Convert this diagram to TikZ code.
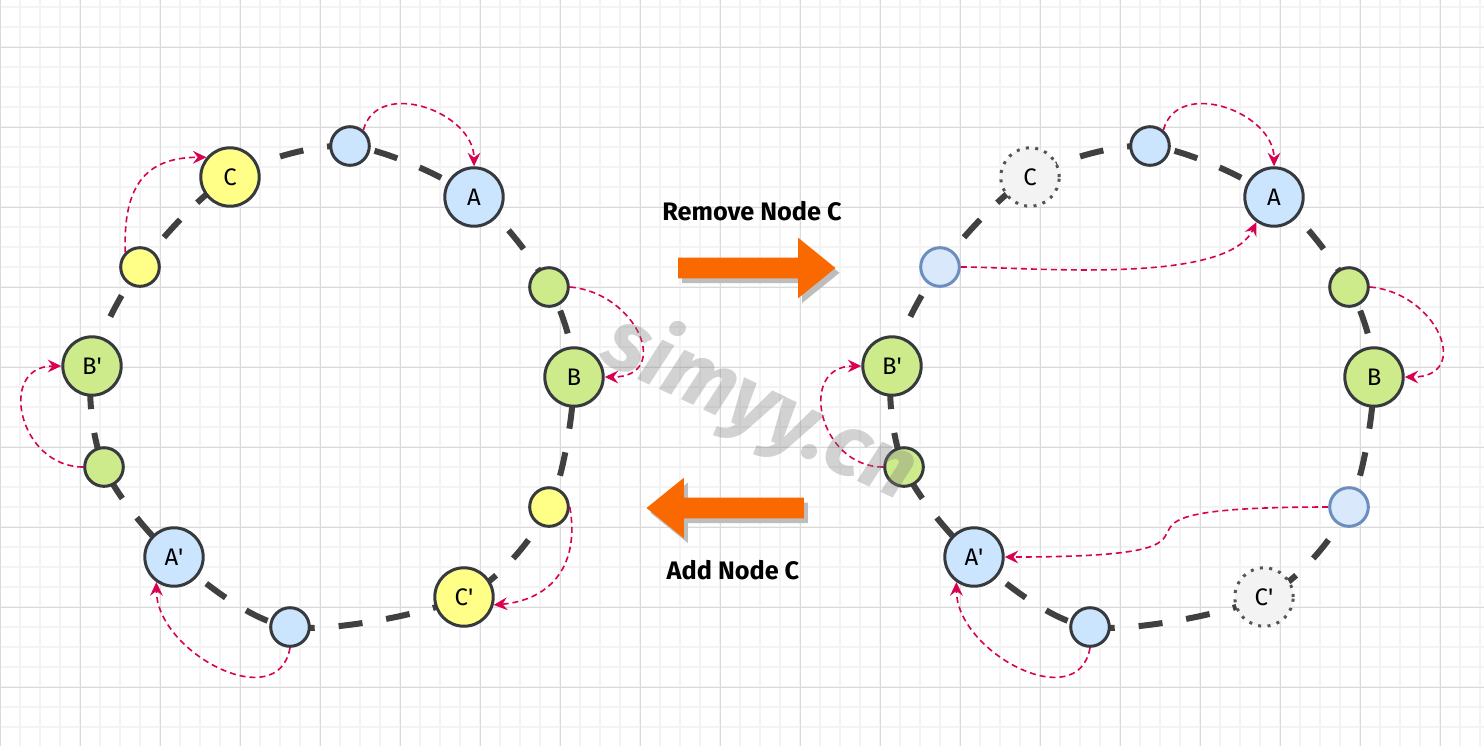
\documentclass[tikz,border=0pt]{standalone}
\usepackage{fontspec}
\setmainfont{Fira Sans}
\usetikzlibrary{arrows.meta,shapes.arrows,shadows,backgrounds}
\definecolor{ringgray}{HTML}{404040}
\definecolor{nodeline}{HTML}{36393D}
\definecolor{nodeblue}{HTML}{CCE5FF}
\definecolor{nodegreen}{HTML}{CDEB8B}
\definecolor{nodeyellow}{HTML}{FFFF88}
\definecolor{newfill}{HTML}{DAE8FC}
\definecolor{newline}{HTML}{6C8EBF}
\definecolor{ghostfill}{HTML}{F3F3F3}
\definecolor{ghostline}{HTML}{555555}
\definecolor{linkred}{HTML}{D90052}
\definecolor{arroworange}{HTML}{FA6800}
\definecolor{shadowgray}{HTML}{BDBDBD}
\definecolor{gridmajor}{HTML}{DADADA}
\definecolor{gridminor}{HTML}{F3F3F3}

\tikzset{
	ring/.style={draw=ringgray,line width=1.5mm,dash pattern=on 6mm off 6mm},
	ringnode/.style={circle,draw=nodeline,line width=0.75mm,inner sep=0pt,font=\fontsize{17}{20}\selectfont},
	big/.style={ringnode,minimum size=14.6mm},
	small/.style={ringnode,minimum size=9.65mm},
	blue/.style={fill=nodeblue},
	green/.style={fill=nodegreen},
	yellow/.style={fill=nodeyellow},
	fresh/.style={small,fill=newfill,draw=newline},
	ghost/.style={big,fill=ghostfill,draw=ghostline,dash pattern=on 0.75mm off 1.6mm},
	link/.style={draw=linkred,line width=0.4mm,dash pattern=on 1.5mm off 1mm,-{Stealth[length=3.4mm,width=3.2mm,inset=1.2mm]}},
	blockarrow/.style={single arrow,fill=arroworange,draw=none,minimum height=39.3mm,inner xsep=0pt,inner ysep=2.5mm,
		single arrow head extend=5mm,single arrow tip angle=78,
		drop shadow={shadow xshift=1mm,shadow yshift=-1.2mm,fill=shadowgray,opacity=1}},
	caption/.style={font=\fontsize{18}{21}\selectfont\bfseries},
	watermark/.style={rotate=-25,text=gray,text opacity=0.35,font=\fontsize{62}{70}\selectfont\bfseries\itshape}
}

\begin{document}
\begin{tikzpicture}[x=0.025cm,y=0.025cm]
	\useasboundingbox (0,0) rectangle (1484,-746);

	% left ring
	\node[small,blue] (Lt) at (350,-146) {};
	\node[big,blue] (LA) at (474,-197) {A};
	\node[small,green] (Lg1) at (549,-287) {};
	\node[big,green] (LB) at (574,-377) {B};
	\node[small,yellow] (Ly1) at (549,-507) {};
	\node[big,yellow] (LCp) at (464,-597) {C\textquotesingle};
	\node[small,blue] (Lb1) at (290,-627) {};
	\node[big,blue] (LAp) at (174,-557) {A\textquotesingle};
	\node[small,green] (Lg2) at (104,-467) {};
	\node[big,green] (LBp) at (92,-366) {B\textquotesingle};
	\node[small,yellow] (Ly2) at (140,-267) {};
	\node[big,yellow] (LC) at (230,-177) {C};

	% right ring
	\node[small,blue] (Rt) at (1150,-146) {};
	\node[big,blue] (RA) at (1274,-197) {A};
	\node[small,green] (Rg1) at (1349,-287) {};
	\node[big,green] (RB) at (1374,-377) {B};
	\node[fresh] (Rb3) at (1349,-507) {};
	\node[ghost] (RCp) at (1264,-597) {C\textquotesingle};
	\node[small,blue] (Rb1) at (1090,-627) {};
	\node[big,blue] (RAp) at (974,-557) {A\textquotesingle};
	\node[small,green] (Rg2) at (904,-467) {};
	\node[big,green] (RBp) at (892,-366) {B\textquotesingle};
	\node[fresh] (Rb2) at (940,-267) {};
	\node[ghost] (RC) at (1030,-177) {C};

	\begin{pgfonlayer}{background}
		\fill[white] (0,0) rectangle (1484,-746);
		\foreach \x in {0,20,...,1480} \draw[gridminor,line width=0.5mm] (\x,0) -- (\x,-746);
		\foreach \y in {7,27,...,746} \draw[gridminor,line width=0.5mm] (0,-\y) -- (1484,-\y);
		\foreach \x in {0,80,...,1480} \draw[gridmajor,line width=0.25mm] (\x,0) -- (\x,-746);
		\foreach \y in {47,127,...,746} \draw[gridmajor,line width=0.25mm] (0,-\y) -- (1484,-\y);
		\draw[ring] plot[smooth cycle] coordinates {(Lt.center) (LA.center) (Lg1.center) (LB.center) (Ly1.center) (LCp.center)
			(Lb1.center) (LAp.center) (Lg2.center) (LBp.center) (Ly2.center) (LC.center)};
		\draw[ring] plot[smooth cycle] coordinates {(Rt.center) (RA.center) (Rg1.center) (RB.center) (Rb3.center) (RCp.center)
			(Rb1.center) (RAp.center) (Rg2.center) (RBp.center) (Rb2.center) (RC.center)};
	\end{pgfonlayer}

	\draw[link] (Lt.50) to[out=75,in=90,looseness=1.2] (LA.north);
	\draw[link] (Lg1.east) to[out=-5,in=0,looseness=1.8] (LB.east);
	\draw[link] (Ly1.east) to[out=-80,in=5,looseness=1.2] (LCp.-15);
	\draw[link] (Lb1.south) to[out=-100,in=-90,looseness=1.2] (LAp.-125);
	\draw[link] (Lg2.west) to[out=180,in=180,looseness=1.6] (LBp.west);
	\draw[link] (Ly2.135) to[out=92,in=180,looseness=1.3] (LC.140);

	\draw[link] (Rt.50) to[out=75,in=90,looseness=1.2] (RA.north);
	\draw[link] (Rb2.east) to[out=0,in=-115,looseness=0.6] (RA.-125);
	\draw[link] (Rg1.east) to[out=-5,in=0,looseness=1.8] (RB.east);
	\draw[link] (Rb3.west) to[out=180,in=0,looseness=2.3] (RAp.east);
	\draw[link] (Rb1.south) to[out=-100,in=-90,looseness=1.2] (RAp.-125);
	\draw[link] (Rg2.west) to[out=180,in=180,looseness=1.6] (RBp.west);

	\node[blockarrow] (toright) at (750.5,-268) {};
	\node[blockarrow,shape border rotate=180] (toleft) at (731.5,-508) {};
	\node[caption] (remove) at (752,-211) {Remove Node C};
	\node[caption] (add) at (733,-570) {Add Node C};

	\node[watermark] (mark) at (760,-408) {simyy.cn};
\end{tikzpicture}
\end{document}
